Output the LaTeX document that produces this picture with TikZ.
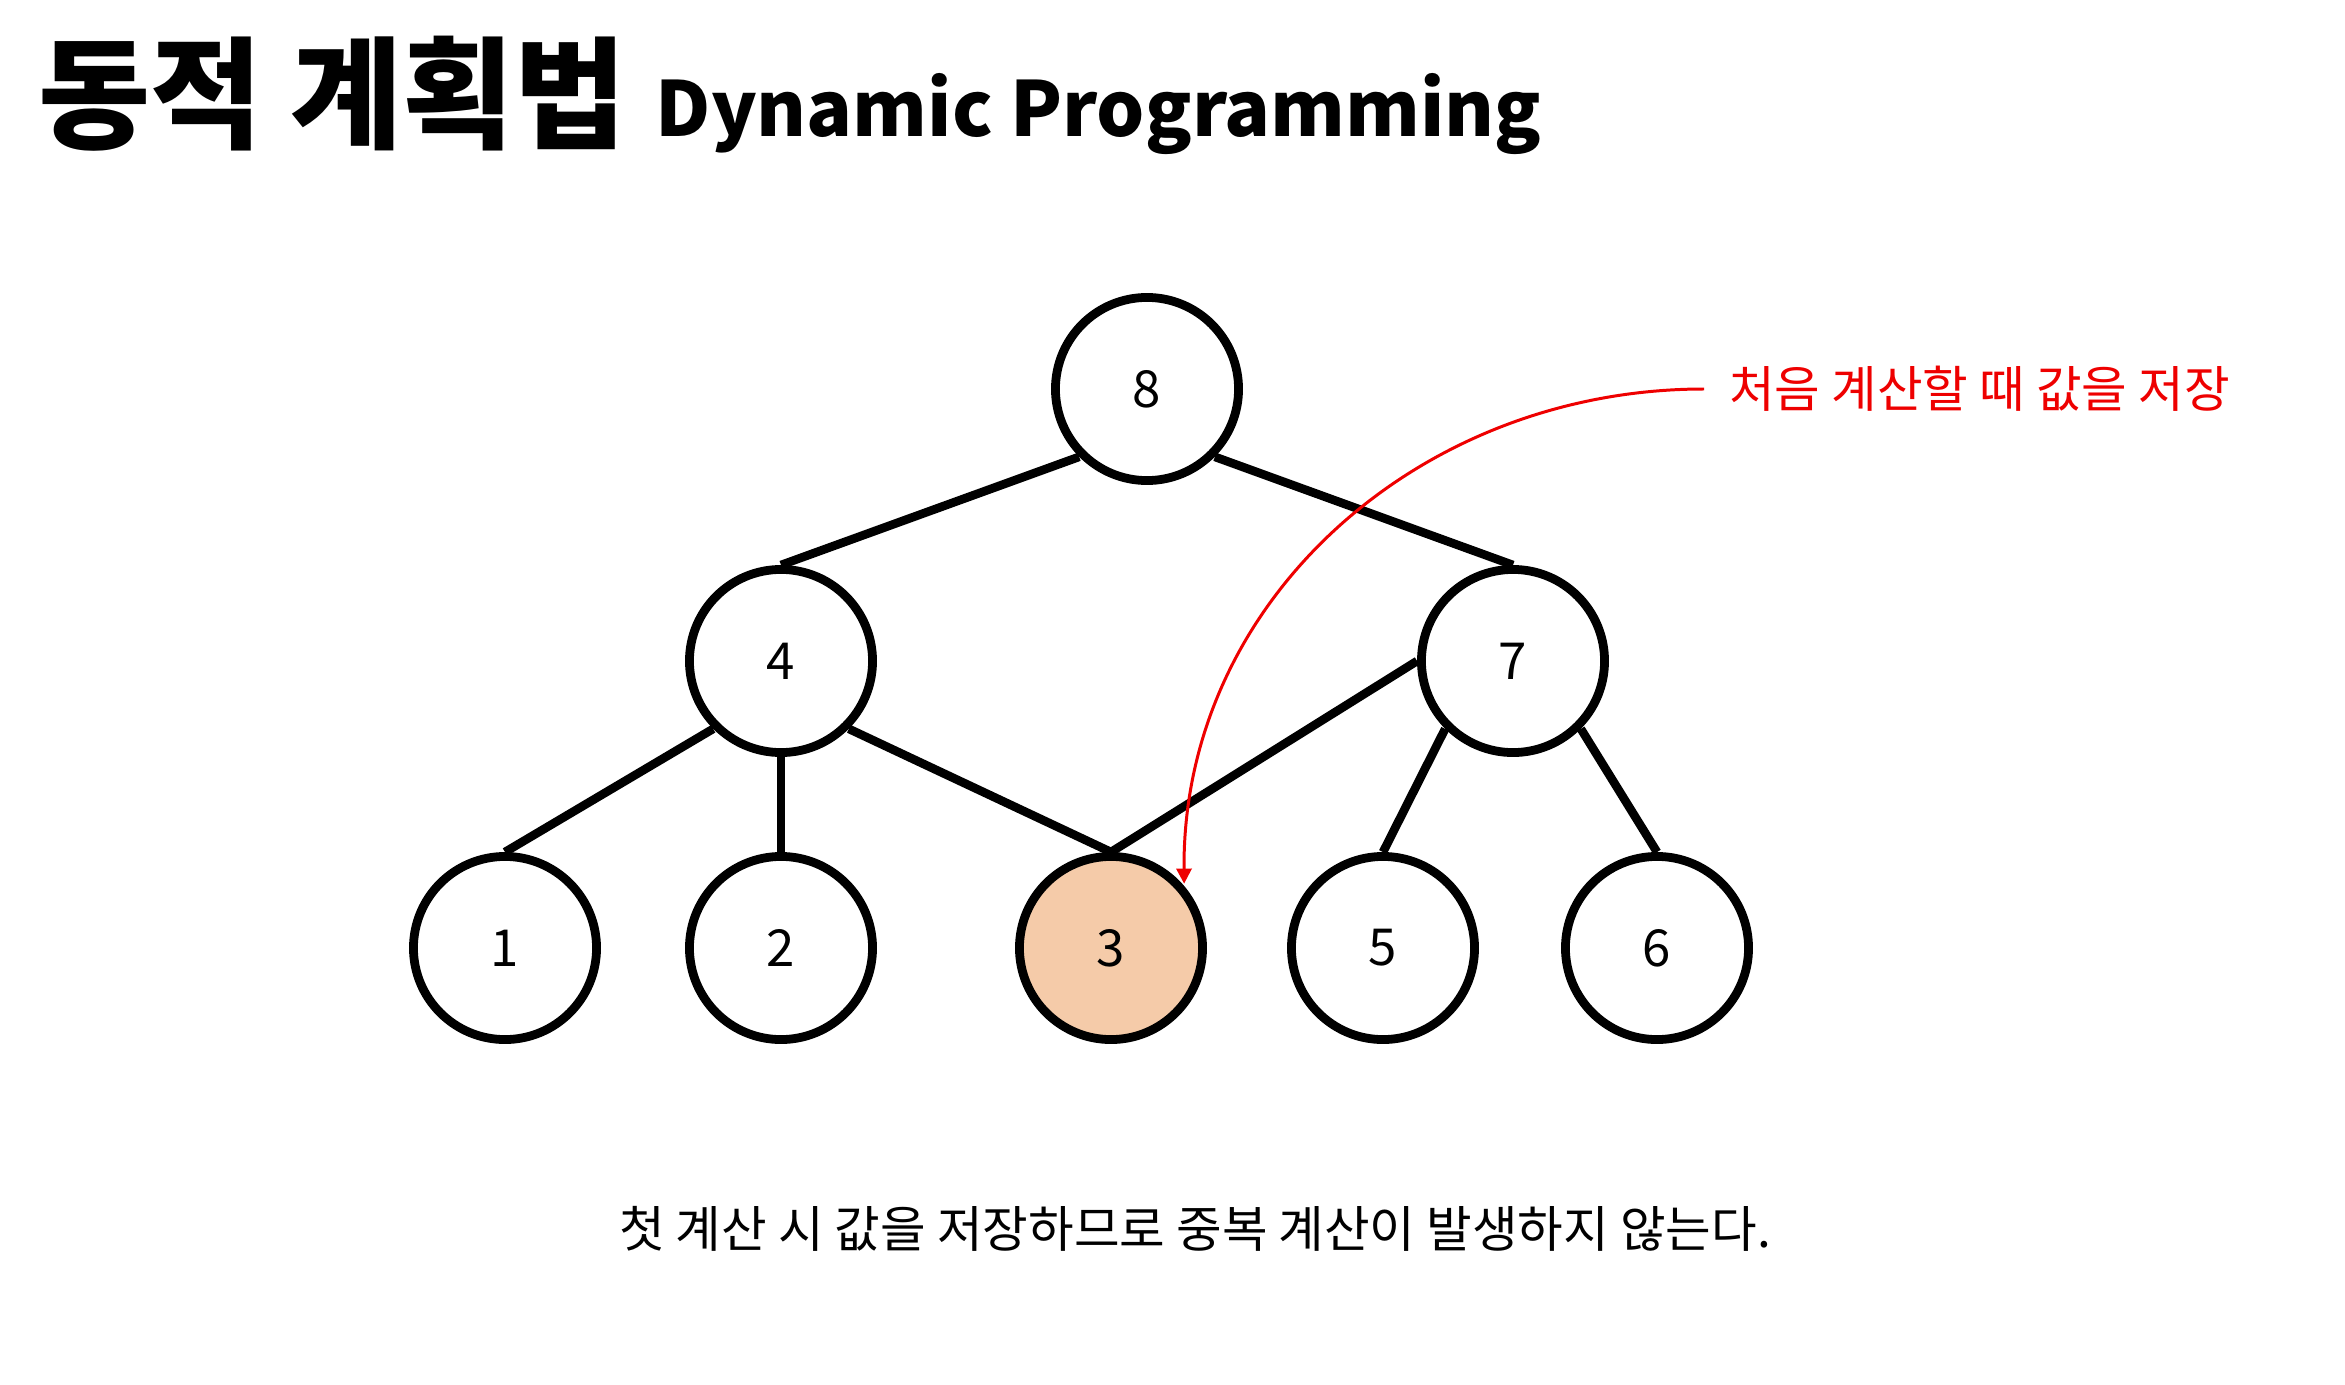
\documentclass[tikz,border=0pt]{standalone}
\usepackage{fontspec}
\setmainfont{Noto Sans CJK KR}
\usetikzlibrary{arrows.meta}
\definecolor{peach}{HTML}{F5CBA9}
\definecolor{annred}{HTML}{EE0000}
\begin{document}
\begin{tikzpicture}[x=0.01cm,y=-0.01cm,
  vnode/.style={circle,draw=black,line width=2.5pt,minimum size=1.83cm,inner sep=0pt,fill=white,font=\fontsize{14.5}{17}\selectfont},
  treeedge/.style={line width=2.45pt,black},
  annot/.style={annred,line width=0.85pt,-{Triangle[length=4.3pt,width=4.3pt]}}]
\useasboundingbox (0,0) rectangle (2345,1385);
% title
\node[anchor=base west,inner sep=0pt,font=\fontsize{34.6}{40}\selectfont\bfseries] (titlekr) at (38,140) {동적 계획법};
\node[anchor=base west,inner sep=0pt,font=\fontsize{21.6}{26}\selectfont\bfseries] (titleen) at (655,137) {Dynamic Programming};
% tree nodes
\node[vnode] (n8) at (1147,389) {8};
\node[vnode] (n4) at (781,661) {4};
\node[vnode] (n7) at (1513,661) {7};
\node[vnode] (n1) at (505,948) {1};
\node[vnode] (n2) at (781,948) {2};
\node[vnode,fill=peach] (n3) at (1111,948) {3};
\node[vnode] (n5) at (1383,948) {5};
\node[vnode] (n6) at (1657,948) {6};
% edges
\draw[treeedge] (n8.south west) -- (n4.north);
\draw[treeedge] (n8.south east) -- (n7.north);
\draw[treeedge] (n4.south west) -- (n1.north);
\draw[treeedge] (n4.south) -- (n2.north);
\draw[treeedge] (n4.south east) -- (n3.north);
\draw[treeedge] (n7.west) -- (n3.north);
\draw[treeedge] (n7.south west) -- (n5.north);
\draw[treeedge] (n7.south east) -- (n6.north);
% annotation
\node[anchor=west,inner ysep=0pt,inner xsep=7pt,text=annred,font=\fontsize{14.1}{17}\selectfont] (note) at (1704,389) {처음 계산할 때 값을 저장};
\draw[annot] (note.west) .. controls (1420,389) and (1182,600) .. ([shift={(1.5pt,-1pt)}]n3.north east);
% caption
\node[inner sep=0pt,font=\fontsize{14.1}{17}\selectfont] (caption) at (1195,1229) {첫 계산 시 값을 저장하므로 중복 계산이 발생하지 않는다.};
\end{tikzpicture}
\end{document}
